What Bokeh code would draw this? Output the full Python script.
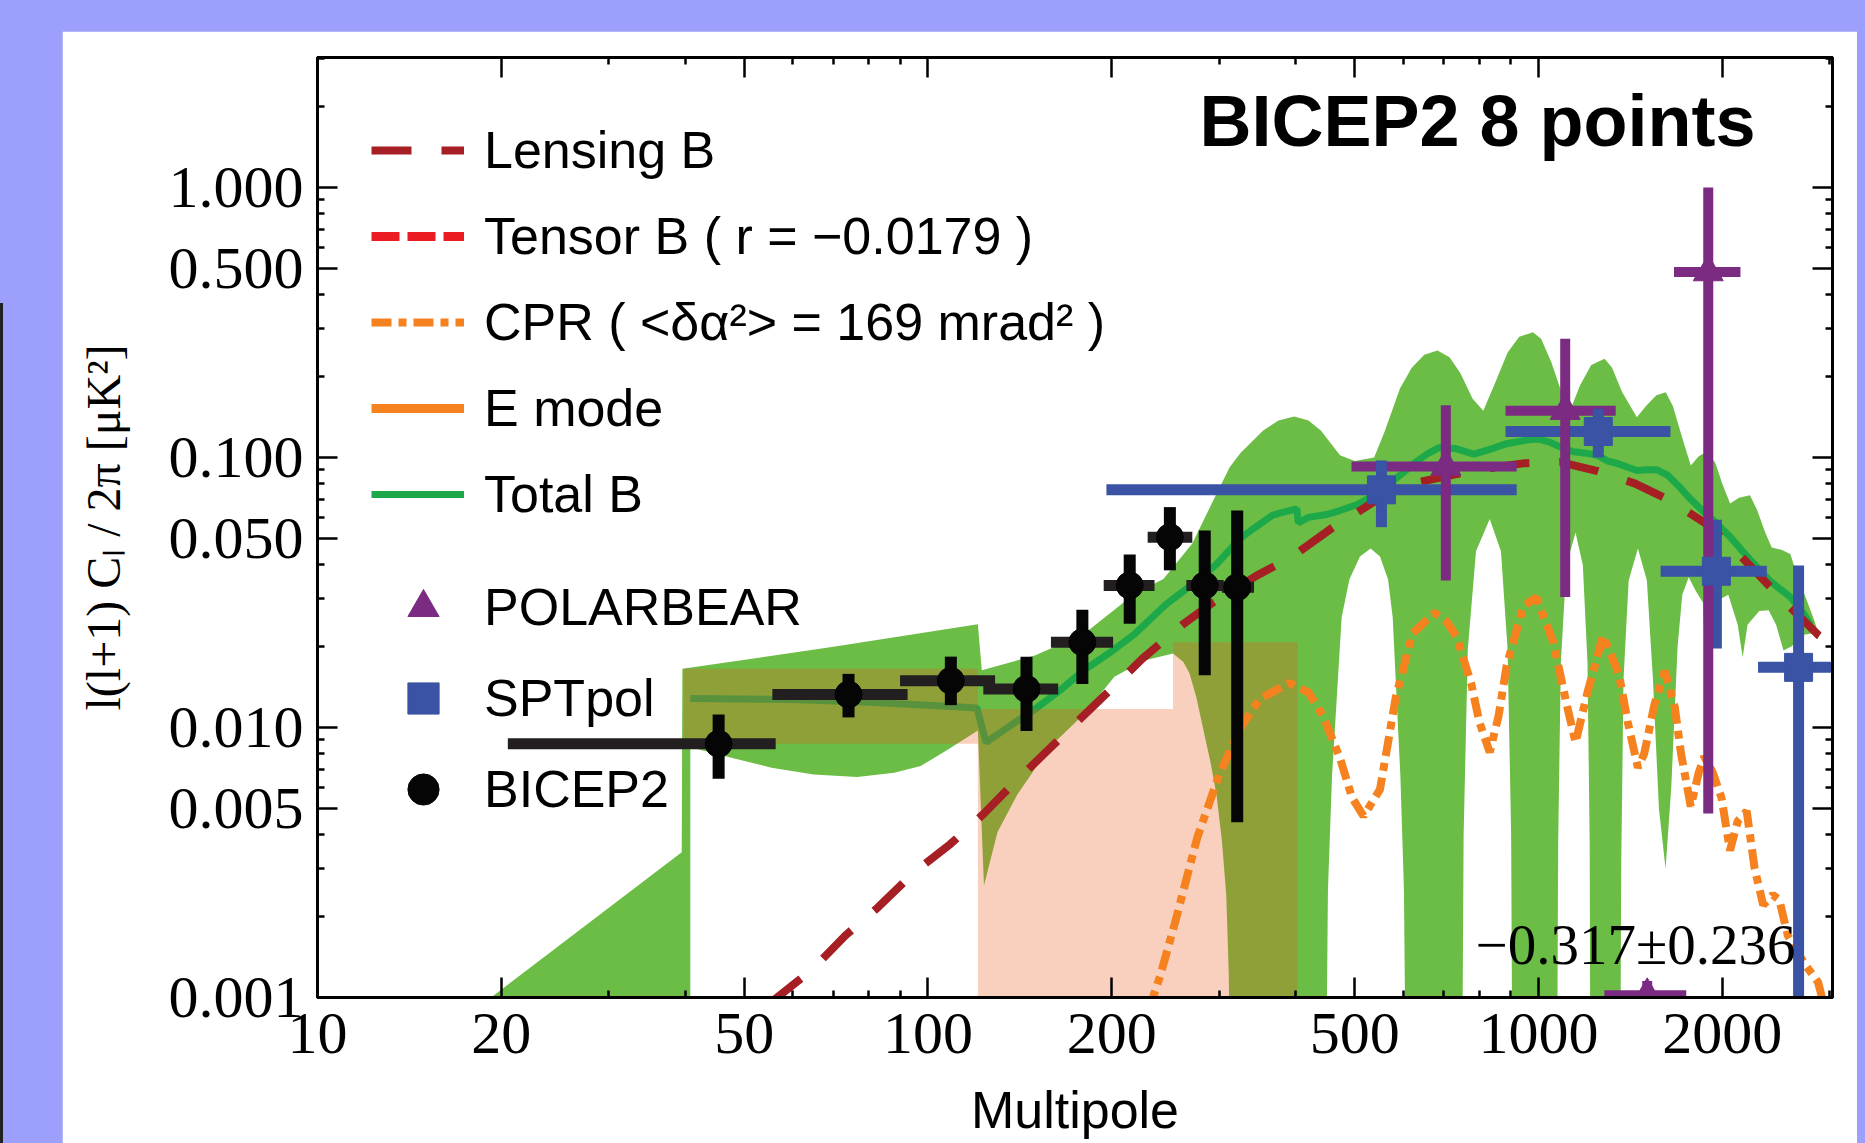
from bokeh.plotting import figure
from bokeh.models import (Range1d, FixedTicker, PrintfTickFormatter, LogAxis, Legend,
                          LegendItem, Label, GlobalInlineStyleSheet)
from bokeh.embed import file_html
from bokeh.resources import INLINE

# ---------------- data (multipole l, l(l+1)C_l/2pi in uK^2) ----------------
bicep_l = [45.4, 74.1, 109, 145, 179, 214, 249, 284, 321]
bicep_c = [0.0087, 0.01325, 0.0149, 0.0139, 0.0207, 0.0336, 0.0507, 0.0336, 0.0331]
bicep_l_lo = [20.5, 55.6, 90.0, 123.2, 159, 194, 229, 265, 303]
bicep_l_hi = [56.3, 92.6, 128.8, 163.4, 201, 235, 271, 305, 342]
bicep_c_lo = [0.00646, 0.0109, 0.0121, 0.0097, 0.0145, 0.0242, 0.0382, 0.0156, 0.00446]
bicep_c_hi = [0.01117, 0.0158, 0.0183, 0.0183, 0.0273, 0.0437, 0.0655, 0.0537, 0.0637]

spt_l = [553, 1253, 1956, 2667]
spt_c = [0.0759, 0.1248, 0.0379, 0.0167]
spt_l_lo = [196, 883, 1585, 2289]
spt_l_hi = [921, 1645, 2366, 3098]
spt_c_lo = [0.0552, 0.100, 0.0196, 0.0007]
spt_c_hi = [0.0975, 0.1515, 0.0588, 0.0398]

pb_l = [705, 1106, 1897, 1507]
pb_c = [0.0926, 0.149, 0.486, 0.00102]
pb_l_lo = [494, 883, 1667, 1282]
pb_l_hi = [921, 1338, 2142, 1746]
pb_c_lo = [0.035, 0.0304, 0.0048, 0.0005]
pb_c_hi = [0.156, 0.275, 1.0, 0.00115]

lensing_b = [(55, 0.00095), (64.4, 0.00126), (73.3, 0.00170), (82.7, 0.00215), (94.8, 0.0029),
             (108.8, 0.0037), (123.5, 0.0048), (137, 0.0061), (158.6, 0.0084), (175.6, 0.0105),
             (203, 0.0144), (224.5, 0.018), (261, 0.024), (294, 0.0292), (346, 0.0366),
             (391, 0.0423), (460, 0.055), (535, 0.068), (636, 0.081), (756, 0.088), (850, 0.092),
             (950, 0.0953), (1085, 0.0962), (1250, 0.089), (1440, 0.080), (1638, 0.0695),
             (1887, 0.0567), (2140, 0.0434), (2500, 0.030), (2880, 0.0219), (3031, 0.0203)]

# r < 0: the tensor spectrum is negative and cannot appear on the log axis
tensor_b = [(10, -0.0005), (80, -0.0018), (200, -0.0008), (500, -0.0002)]

# E-mode power lies above the plotted range
e_mode = [(300, 10.0), (1000, 40.0), (2000, 25.0)]

total_b = [(40.8, 0.0128), (60, 0.0127), (80, 0.0124), (100, 0.0121), (120.3, 0.0118),
           (124.5, 0.0088), (135, 0.0100), (149, 0.0116), (165, 0.0138), (180, 0.0163),
           (199, 0.019), (218, 0.0222), (245, 0.0285), (263, 0.0322), (288, 0.038), (297, 0.0403),
           (324, 0.05), (345, 0.0555), (367, 0.0612), (385, 0.063), (402, 0.0645), (404, 0.0573),
           (420, 0.0600), (450, 0.0615), (473, 0.0636), (505, 0.067), (538, 0.0724), (565, 0.079),
           (593, 0.0859), (625, 0.095), (657, 0.103), (688, 0.109), (730, 0.108), (783, 0.103),
           (830, 0.107), (887, 0.1125), (955, 0.116), (1000, 0.117), (1043, 0.114), (1100, 0.108),
           (1141, 0.105), (1187, 0.104), (1248, 0.102), (1300, 0.097), (1347, 0.095), (1400, 0.092),
           (1451, 0.0895), (1500, 0.090), (1564, 0.090), (1628, 0.086), (1700, 0.078), (1776, 0.070),
           (1850, 0.064), (1911, 0.060), (1990, 0.055), (2060, 0.0508), (2140, 0.046), (2225, 0.0417),
           (2310, 0.038), (2394, 0.0349), (2490, 0.0325), (2585, 0.0304), (2650, 0.0285),
           (2717, 0.0264), (2790, 0.024)]

cpr = [(230, 0.0009), (240, 0.0012), (254, 0.0019), (276, 0.0039), (300, 0.0067), (327, 0.0102),
       (350, 0.0128), (391, 0.0146), (420, 0.0135), (444, 0.0110), (473, 0.0077), (495, 0.0055),
       (517, 0.0047), (550, 0.0059), (584, 0.0130), (622, 0.0223), (675, 0.0266), (707, 0.0247),
       (735, 0.0216), (776, 0.0145), (800, 0.0105), (832, 0.0081), (860, 0.011), (887, 0.0170),
       (945, 0.0282), (992, 0.0303), (1057, 0.0208), (1112, 0.0122), (1150, 0.0088), (1202, 0.0134),
       (1276, 0.0219), (1354, 0.0158), (1400, 0.0105), (1455, 0.0071), (1490, 0.0080), (1549, 0.0122),
       (1610, 0.0162), (1672, 0.0119), (1712, 0.0080), (1776, 0.0051), (1830, 0.0068), (1869, 0.0078),
       (1930, 0.0068), (1994, 0.0055), (2059, 0.0035), (2120, 0.0045), (2193, 0.0049), (2260, 0.0030),
       (2334, 0.0022), (2420, 0.0024), (2480, 0.0023), (2560, 0.0017), (2640, 0.0015), (2750, 0.0013),
       (2870, 0.00114), (2950, 0.0009)]

band_upper = [(16.9, 0.0008), (39.5, 0.00345), (39.6, 0.0165), (70, 0.0199), (120.7, 0.0241),
              (122.5, 0.0163), (150, 0.0185), (180, 0.0222), (218, 0.0313), (243, 0.0355), (271, 0.048),
              (292, 0.068), (312, 0.092), (325, 0.104), (354, 0.126), (375, 0.137), (398, 0.142),
              (420, 0.137), (440, 0.126), (473, 0.102), (500, 0.097), (538, 0.100), (560, 0.125),
              (593, 0.18), (620, 0.215), (650, 0.24), (683, 0.249), (715, 0.235), (745, 0.205),
              (780, 0.165), (812, 0.149), (850, 0.19), (890, 0.245), (930, 0.28), (979, 0.291),
              (1010, 0.275), (1050, 0.225), (1090, 0.175), (1126, 0.149), (1170, 0.185), (1220, 0.22),
              (1283, 0.232), (1320, 0.215), (1370, 0.175), (1449, 0.141), (1500, 0.155), (1560, 0.17),
              (1616, 0.1743), (1660, 0.155), (1720, 0.118), (1776, 0.0934), (1830, 0.101), (1870, 0.104),
              (1900, 0.1045), (1950, 0.095), (2000, 0.08), (2060, 0.0675), (2130, 0.071), (2220, 0.0724),
              (2280, 0.064), (2350, 0.053), (2410, 0.0464), (2500, 0.0455), (2585, 0.0439), (2660, 0.036),
              (2725, 0.0313), (2830, 0.0249), (2870, 0.0225)]

band_lower = [(16.9, 0.0005), (40.8, 0.0005), (40.8, 0.00845), (48, 0.0077), (55.4, 0.0071), (65, 0.0067),
              (76.6, 0.00655), (88, 0.0068), (97.3, 0.0072), (108, 0.0083), (120.7, 0.00975),
              (123.5, 0.0026), (130, 0.0041), (140, 0.00564), (158.6, 0.0085), (180, 0.0112), (202, 0.0154),
              (226, 0.0177), (252, 0.0188), (262, 0.0175), (268, 0.0159), (275, 0.013), (282, 0.0100),
              (290, 0.0075), (297, 0.0056), (303, 0.0038), (308, 0.0024), (311, 0.0012), (312, 0.0005),
              (449, 0.0005), (452, 0.0025), (459, 0.0066), (476, 0.0256), (490, 0.0353), (510, 0.043),
              (531, 0.046), (550, 0.043), (567, 0.0353), (577, 0.0256), (594, 0.0066), (602, 0.0025),
              (606, 0.0005), (750, 0.0005), (754, 0.004), (766, 0.0195), (790, 0.045), (832, 0.0592),
              (868, 0.045), (890, 0.0195), (902, 0.004), (906, 0.0005), (1073, 0.0005), (1077, 0.0037),
              (1088, 0.0174), (1111, 0.040), (1150, 0.0527), (1182, 0.040), (1203, 0.0174), (1213, 0.0037),
              (1216, 0.0005), (1362, 0.0005), (1366, 0.003), (1378, 0.015), (1405, 0.035), (1455, 0.046),
              (1505, 0.035), (1540, 0.015), (1575, 0.005), (1615, 0.003), (1650, 0.006), (1690, 0.02),
              (1720, 0.031), (1762, 0.036), (1810, 0.032), (1860, 0.029), (1893, 0.008), (1905, 0.008),
              (1925, 0.027), (1990, 0.030), (2046, 0.031), (2120, 0.024), (2160, 0.0182), (2200, 0.024),
              (2300, 0.027), (2382, 0.0272), (2450, 0.024), (2520, 0.0193), (2600, 0.020), (2700, 0.022),
              (2870, 0.0225)]

cpr_box_left = [39.8, 120.7, 252]
cpr_box_right = [120.7, 252, 403]
cpr_box_bottom = [0.0087, 0.0005, 0.0005]
cpr_box_top = [0.0165, 0.0117, 0.0207]

x_major_ticks = [10, 20, 50, 100, 200, 500, 1000, 2000]
x_minor_ticks = [30, 40, 60, 70, 80, 90, 300, 400, 600, 700, 800, 900, 3000]
y_major_ticks = [0.001, 0.005, 0.01, 0.05, 0.1, 0.5, 1.0]
y_minor_ticks = [0.002, 0.003, 0.004, 0.006, 0.007, 0.008, 0.009, 0.02, 0.03, 0.04, 0.06, 0.07,
                 0.08, 0.09, 0.2, 0.3, 0.4, 0.6, 0.7, 0.8, 0.9, 2, 3]


def unzip(pairs):
    return [a for a, _ in pairs], [b for _, b in pairs]


# ---------------- figure ----------------
css = ("html, body {background-color: #9C9FFC;} "
       "body {margin: 8px 8px 0 8px; overflow: hidden;} "
       "body::before {content: ''; position: fixed; left: 0; top: 303px; width: 3px; "
       "height: 840px; background: #222;}")

p = figure(width=1799, height=1130, x_axis_type="log", y_axis_type="log",
           x_range=Range1d(10, 3031), y_range=Range1d(0.001, 3.03),
           output_backend="svg", toolbar_location=None,
           min_border_left=255, min_border_right=29, min_border_top=26, min_border_bottom=164)
p.margin = (23, 0, 0, 54)
p.stylesheets = [GlobalInlineStyleSheet(css=css)]
p.border_fill_color = "white"
p.background_fill_color = "white"
p.outline_line_color = "black"
p.outline_line_width = 3
p.grid.visible = False

xb = p.below[0]
yl = p.left[0]

xt = FixedTicker(ticks=x_major_ticks, minor_ticks=x_minor_ticks)
yt = FixedTicker(ticks=y_major_ticks, minor_ticks=y_minor_ticks)

xb.ticker = xt
yl.ticker = yt
xb.formatter = PrintfTickFormatter(format="%d")
yl.formatter = PrintfTickFormatter(format="%.3f")

top_axis = LogAxis(ticker=xt, formatter=PrintfTickFormatter(format="%d"))
right_axis = LogAxis(ticker=yt, formatter=PrintfTickFormatter(format="%.3f"))
p.add_layout(top_axis, "above")
p.add_layout(right_axis, "right")

for ax in [xb, yl, top_axis, right_axis]:
    ax.axis_line_width = 3
    ax.axis_line_color = "black"
    ax.major_tick_in = 20
    ax.major_tick_out = 0
    ax.minor_tick_in = 7
    ax.minor_tick_out = 0
    ax.major_tick_line_width = 2.5
    ax.minor_tick_line_width = 2.5
    ax.major_tick_line_color = "black"
    ax.minor_tick_line_color = "black"
    ax.major_label_text_font = "Liberation Serif"
    ax.major_label_text_font_size = "60px"
    ax.major_label_text_color = "black"

# mirror axes: ticks only, no labels
for ax in [top_axis, right_axis]:
    ax.major_label_text_font_size = "8px"
    ax.major_label_text_color = None
    ax.major_label_text_alpha = 0
    ax.major_label_standoff = 0

xb.major_label_standoff = 16
yl.major_label_standoff = 14

xb.axis_label = "Multipole"
xb.axis_label_text_font = "Liberation Sans"
xb.axis_label_text_font_size = "52px"
xb.axis_label_text_font_style = "normal"
xb.axis_label_standoff = 25
xb.axis_label_text_color = "black"

yl.axis_label = "l(l+1) Cₗ / 2π [μK²]"
yl.axis_label_text_font = "Liberation Serif"
yl.axis_label_text_font_size = "48px"
yl.axis_label_text_font_style = "normal"
yl.axis_label_standoff = 36
yl.axis_label_text_color = "black"

# ---------------- glyphs ----------------
ul, uc = unzip(band_upper)
ll, lc = unzip(band_lower)
p.patch(ul + ll[::-1], uc + lc[::-1], fill_color="#6BBD45", line_alpha=0)

tl, tc = unzip(total_b)
r_total = p.line(tl, tc, line_color="#1DA94A", line_width=7)

p.quad(left=cpr_box_left, right=cpr_box_right, bottom=cpr_box_bottom, top=cpr_box_top,
       fill_color="#EA5A1C", fill_alpha=0.29, line_alpha=0)

lel, lec = unzip(lensing_b)
r_lens = p.line(lel, lec, line_color="#A51F24", line_width=8, line_dash="40 30")

tbl, tbc = unzip(tensor_b)
r_tensor = p.line(tbl, tbc, line_color="#EC1C24", line_width=9, line_dash="28 8")

cl, cc = unzip(cpr)
r_cpr = p.line(cl, cc, line_color="#F5821F", line_width=8, line_dash="20 7 8 7")

el, ec = unzip(e_mode)
r_emode = p.line(el, ec, line_color="#F5821F", line_width=9)

# error bars: horizontal first, then vertical, then markers
p.segment(x0=bicep_l_lo, y0=bicep_c, x1=bicep_l_hi, y1=bicep_c, line_color="#231F20", line_width=11)
p.segment(x0=spt_l_lo, y0=spt_c, x1=spt_l_hi, y1=spt_c, line_color="#3A53A4", line_width=11)
p.segment(x0=pb_l_lo, y0=pb_c, x1=pb_l_hi, y1=pb_c, line_color="#7B2B81", line_width=10)
p.segment(x0=bicep_l, y0=bicep_c_lo, x1=bicep_l, y1=bicep_c_hi, line_color="#050505", line_width=12)
p.segment(x0=spt_l, y0=spt_c_lo, x1=spt_l, y1=spt_c_hi, line_color="#3A53A4", line_width=11)
p.segment(x0=pb_l, y0=pb_c_lo, x1=pb_l, y1=pb_c_hi, line_color="#7B2B81", line_width=10)

r_bicep = p.scatter(bicep_l, bicep_c, marker="circle", size=27, fill_color="#050505", line_color="#050505")
r_spt = p.scatter(spt_l, spt_c, marker="square", size=28, fill_color="#3A53A4", line_color="#3A53A4")
r_pb = p.scatter(pb_l, pb_c, marker="triangle", size=30, fill_color="#7B2B81", line_color="#7B2B81")

# ---------------- texts ----------------
p.add_layout(Label(x=2267, y=1.756, text="BICEP2 8 points", text_align="right",
                   text_baseline="alphabetic", text_font="Liberation Sans", text_font_size="72px",
                   text_font_style="bold", text_color="black"))
p.add_layout(Label(x=2636, y=0.00157, text="−0.317±0.236", text_align="right",
                   text_baseline="alphabetic", text_font="Liberation Serif", text_font_size="57px",
                   text_color="black"))

# ---------------- legends ----------------
leg1 = Legend(items=[
    LegendItem(label="Lensing B", renderers=[r_lens]),
    LegendItem(label="Tensor B ( r = −0.0179 )", renderers=[r_tensor]),
    LegendItem(label="CPR ( <δα²> = 169 mrad² )", renderers=[r_cpr]),
    LegendItem(label="E mode", renderers=[r_emode]),
    LegendItem(label="Total B", renderers=[r_total]),
], location="top_left", margin=54, padding=0, spacing=8, glyph_width=93, glyph_height=78,
    label_height=78, label_standoff=20, label_text_font="Liberation Sans", label_text_font_size="52px",
    label_text_color="black", border_line_alpha=0, background_fill_alpha=0)

leg2 = Legend(items=[
    LegendItem(label="POLARBEAR", renderers=[r_pb]),
    LegendItem(label="SPTpol", renderers=[r_spt]),
    LegendItem(label="BICEP2", renderers=[r_bicep]),
], location=(54, 169), margin=0, padding=0, spacing=13, glyph_width=104, glyph_height=78,
    label_height=78, label_standoff=9, label_text_font="Liberation Sans", label_text_font_size="52px",
    label_text_color="black", border_line_alpha=0, background_fill_alpha=0)

p.add_layout(leg1)
p.add_layout(leg2)

open("out.html", "w").write(file_html(p, INLINE))
